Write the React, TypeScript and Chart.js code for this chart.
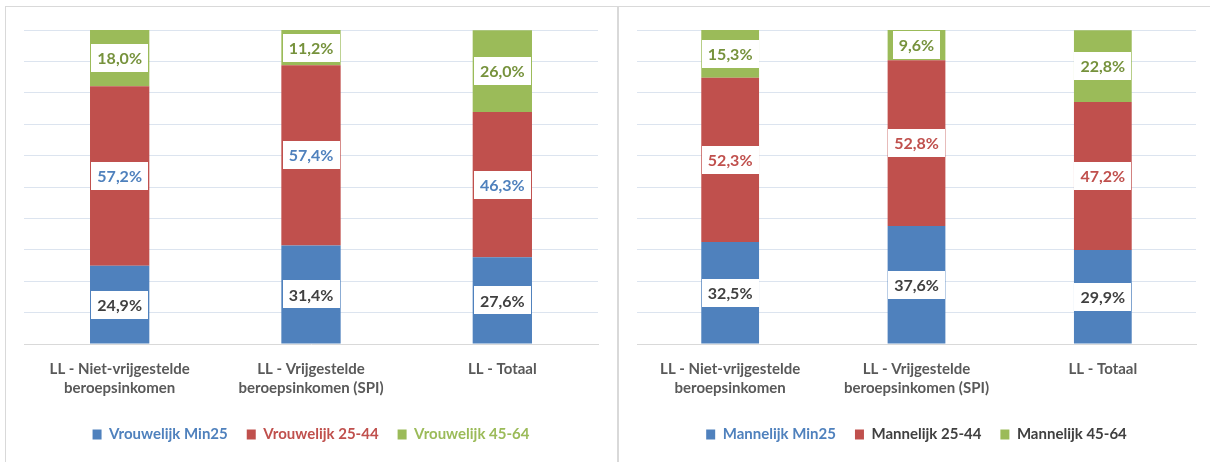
import React, { useEffect, useRef } from 'react';
import { Chart, registerables } from 'chart.js';

Chart.register(...registerables);

const FONT = "Lato, 'Liberation Sans', sans-serif";

const categories: string[][] = [
  ['LL - Niet-vrijgestelde', 'beroepsinkomen'],
  ['LL - Vrijgestelde', 'beroepsinkomen (SPI)'],
  ['LL - Totaal'],
];

const vrouwSeries = ['Vrouwelijk Min25', 'Vrouwelijk 25-44', 'Vrouwelijk 45-64'];
const vrouwMin25 = [24.9, 31.4, 27.6];
const vrouw2544 = [57.2, 57.4, 46.3];
const vrouw4564 = [18.0, 11.2, 26.0];

const manSeries = ['Mannelijk Min25', 'Mannelijk 25-44', 'Mannelijk 45-64'];
const manMin25 = [32.5, 37.6, 29.9];
const man2544 = [52.3, 52.8, 47.2];
const man4564 = [15.3, 9.6, 22.8];

const yMin = 0;
const yMax = 100;
const yStep = 10;

const barColors = ['#4F81BD', '#C0504D', '#9BBB59'];

const fmt = (v: number) => v.toFixed(1).replace('.', ',') + '%';

const segLabels = {
  id: 'segLabels',
  afterDatasetsDraw(chart: any, _args: any, opts: any) {
    const ctx = chart.ctx;
    ctx.save();
    ctx.font = `bold 16px ${FONT}`;
    ctx.textAlign = 'center';
    ctx.textBaseline = 'middle';
    chart.data.datasets.forEach((ds: any, di: number) => {
      const meta = chart.getDatasetMeta(di);
      meta.data.forEach((bar: any, i: number) => {
        const text = fmt(ds.data[i]);
        const w = Math.round(ctx.measureText(text).width + 12);
        const h = 28;
        const cy = (bar.y + bar.base) / 2;
        ctx.fillStyle = '#FFFFFF';
        ctx.fillRect(Math.round(bar.x - w / 2), Math.round(cy - h / 2), w, h);
        ctx.fillStyle = opts.colors[di];
        ctx.fillText(text, bar.x, cy + 1);
      });
    });
    ctx.restore();
  },
};

type PanelProps = {
  series: string[];
  values: number[][];
  labelColors: string[];
  legendColors: string[];
  padding: { left: number; right: number; top: number; bottom: number };
  width: number;
  height: number;
  left: number;
};

function Panel(props: PanelProps) {
  const ref = useRef<HTMLCanvasElement>(null);
  useEffect(() => {
    if (!ref.current) return;
    const chart = new Chart(ref.current, {
      type: 'bar',
      data: {
        labels: categories,
        datasets: props.series.map((name, i) => ({
          label: name,
          data: props.values[i],
          backgroundColor: barColors[i],
          borderWidth: 0,
          barPercentage: 0.31,
          categoryPercentage: 1,
        })),
      },
      plugins: [segLabels],
      options: {
        responsive: false,
        animation: false,
        devicePixelRatio: 1,
        layout: { padding: props.padding },
        scales: {
          x: {
            stacked: true,
            grid: { display: false, drawTicks: false },
            border: { display: true, color: '#D9D9D9', width: 1 },
            ticks: {
              color: '#595959',
              font: { family: FONT, size: 15, weight: 'bold', lineHeight: 1.3 },
              padding: 15,
              maxRotation: 0,
              autoSkip: false,
            },
            afterFit: (scale: any) => {
              scale.height = 64;
            },
          },
          y: {
            stacked: true,
            min: yMin,
            max: yMax,
            ticks: { display: false, stepSize: yStep },
            border: { display: false },
            grid: {
              drawTicks: false,
              color: (c: any) => (c.tick && c.tick.value === 0 ? 'rgba(0,0,0,0)' : '#DCE4EF'),
              lineWidth: 1,
            },
            afterFit: (scale: any) => {
              scale.width = 0;
            },
          },
        },
        plugins: {
          tooltip: { enabled: false },
          legend: {
            display: true,
            position: 'bottom',
            labels: {
              boxWidth: 9,
              boxHeight: 10,
              padding: 19,
              color: '#404040',
              font: { family: FONT, size: 15, weight: 'bold' },
              generateLabels: (ch: any) => {
                const items = (Chart as any).defaults.plugins.legend.labels.generateLabels(ch);
                return items.map((it: any, i: number) => ({ ...it, fontColor: props.legendColors[i], lineWidth: 0 }));
              },
            },
          },
          segLabels: { colors: props.labelColors },
        } as any,
      } as any,
    });
    return () => chart.destroy();
  }, []);
  return (
    <canvas
      ref={ref}
      width={props.width}
      height={props.height}
      style={{ position: 'absolute', left: props.left, top: 0, width: props.width, height: props.height }}
    />
  );
}

export default function App() {
  return (
    <div
      style={{
        position: 'fixed',
        left: 0,
        top: 0,
        width: 1210,
        height: 462,
        background: '#FFFFFF',
        overflow: 'hidden',
      }}
    >
      <div
        style={{
          position: 'absolute',
          left: 5,
          top: 6,
          width: 613,
          height: 500,
          border: '1px solid #D9D9D9',
          boxSizing: 'border-box',
        }}
      />
      <div
        style={{
          position: 'absolute',
          left: 618,
          top: 6,
          width: 620,
          height: 500,
          border: '1px solid #D9D9D9',
          boxSizing: 'border-box',
        }}
      />
      <Panel
        series={vrouwSeries}
        values={[vrouwMin25, vrouw2544, vrouw4564]}
        labelColors={['#404040', '#4F81BD', '#76923C']}
        legendColors={['#4F81BD', '#C0504D', '#9BBB59']}
        padding={{ left: 24, right: 19, top: 30, bottom: 10 }}
        width={617}
        height={462}
        left={0}
      />
      <Panel
        series={manSeries}
        values={[manMin25, man2544, man4564]}
        labelColors={['#404040', '#C0504D', '#76923C']}
        legendColors={['#4F81BD', '#404040', '#404040']}
        padding={{ left: 18, right: 14, top: 30, bottom: 10 }}
        width={591}
        height={462}
        left={619}
      />
    </div>
  );
}
